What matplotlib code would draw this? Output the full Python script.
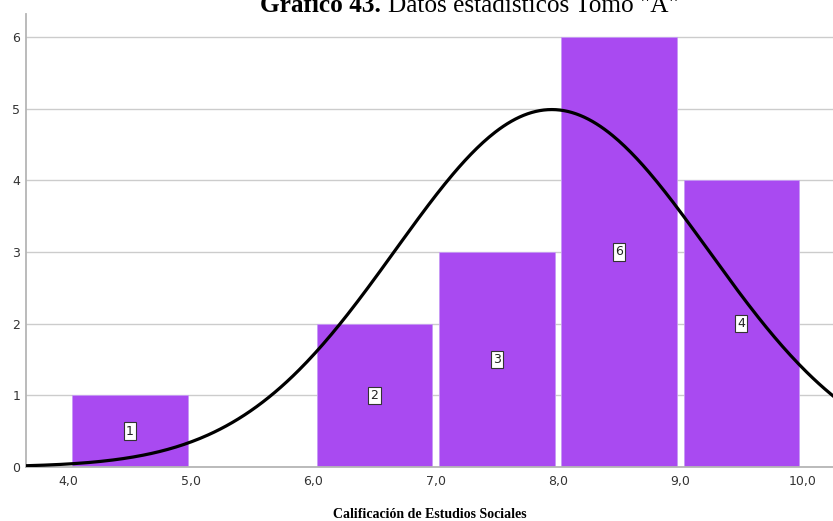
import matplotlib
matplotlib.use("Agg")
import matplotlib.pyplot as plt
import numpy as np

# histogram data
bin_edges = [4.0, 5.0, 6.0, 7.0, 8.0, 9.0, 10.0]
counts = [1, 0, 2, 3, 6, 4]
x_ticks = [4.0, 5.0, 6.0, 7.0, 8.0, 9.0, 10.0]
x_tick_labels = ["4,0", "5,0", "6,0", "7,0", "8,0", "9,0", "10,0"]
y_ticks = [0, 1, 2, 3, 4, 5, 6]

# fitted normal curve parameters (estimated)
mean = 7.95
std = 1.28
n_total = sum(counts)
bin_width = 1.0

bar_color = "#A94AF1"

fig = plt.figure(figsize=(8.33, 5.21), dpi=100)
ax = fig.add_axes([26 / 833, 54 / 521, 807 / 833, 453 / 521])

centers = [(a + b) / 2 for a, b in zip(bin_edges[:-1], bin_edges[1:])]
ax.bar(centers, counts, width=bin_width * 0.945, color=bar_color,
       edgecolor="#c79af5", linewidth=0.6, zorder=2)

# count labels in boxes, half way up each bar
for cx, c in zip(centers, counts):
    if c == 0:
        continue
    ax.text(cx, c / 2, str(c), ha="center", va="center",
            fontsize=9, color="#222222", zorder=4,
            bbox=dict(boxstyle="square,pad=0.18", facecolor="white",
                      edgecolor="#333333", linewidth=0.8))

xs = np.linspace(3.65, 10.25, 400)
ys = n_total * bin_width / (std * np.sqrt(2 * np.pi)) * np.exp(-0.5 * ((xs - mean) / std) ** 2)
ax.plot(xs, ys, color="black", linewidth=2.3, zorder=3)

ax.set_xlim(3.65, 10.25)
ax.set_ylim(0, 6.32)
ax.set_xticks(x_ticks)
ax.set_xticklabels(x_tick_labels)
ax.set_yticks(y_ticks)
ax.tick_params(length=0, labelsize=9, labelcolor="#333333", pad=6)
ax.tick_params(axis="y", pad=4)
ax.grid(axis="y", color="#cccccc", linewidth=1, zorder=0)
ax.set_axisbelow(True)
for side in ["top", "right"]:
    ax.spines[side].set_visible(False)
for side in ["left", "bottom"]:
    ax.spines[side].set_color("#b5b5b5")
    ax.spines[side].set_linewidth(1.3)

ax.set_xlabel("Calificación de Estudios Sociales", fontfamily="Liberation Serif",
              fontweight="bold", fontsize=10, labelpad=14)

# title, partly cut off at the top as in the source
t1 = fig.text(260 / 833, 1 - 12 / 521, "Gráfico 43.", fontfamily="Liberation Serif",
              fontweight="bold", fontsize=18.2, ha="left", va="baseline")
fig.canvas.draw()
bb = t1.get_window_extent()
x2 = (bb.x1 + 7) / fig.bbox.width
fig.text(x2, 1 - 12 / 521, "Datos estadísticos Tomo \"A\"", fontfamily="Liberation Serif",
         fontsize=18.2, ha="left", va="baseline")

fig.savefig("out.png", dpi=100)
